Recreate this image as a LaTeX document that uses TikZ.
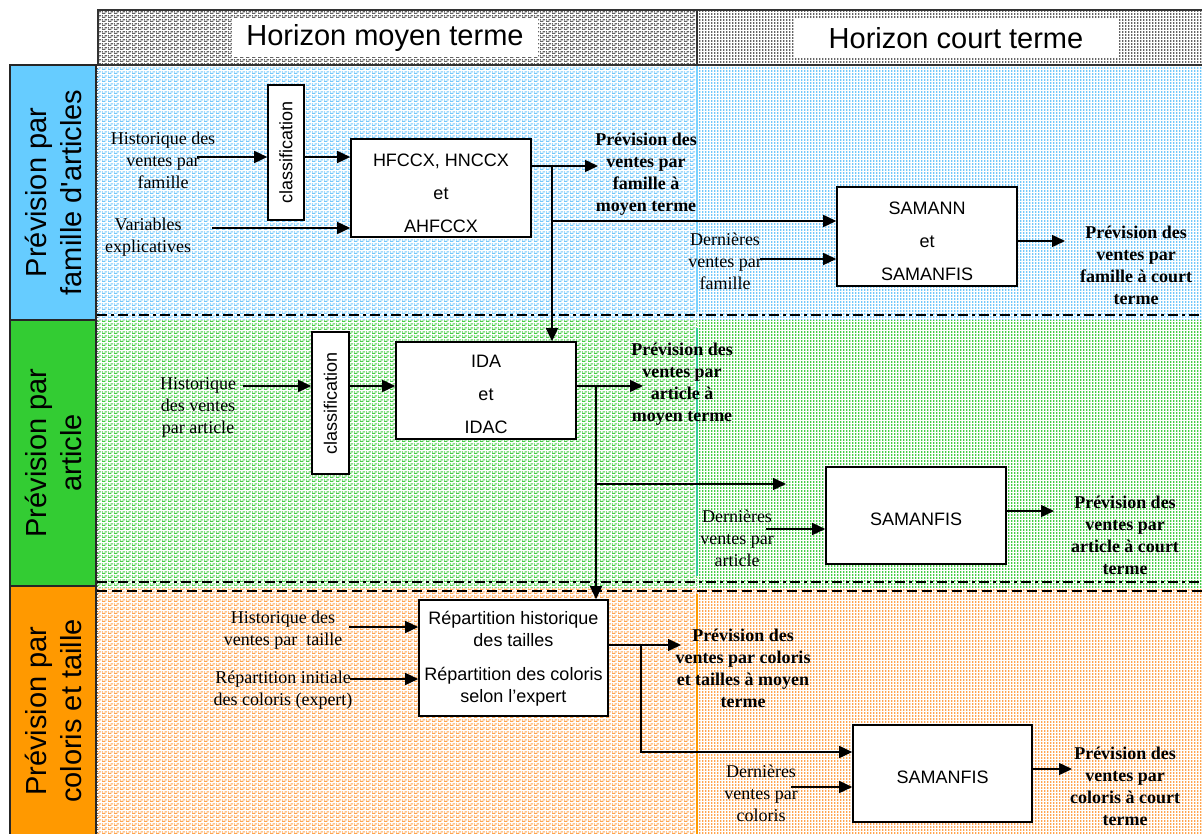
\documentclass[tikz,border=0pt]{standalone}
\usepackage{fontspec}
\setmainfont{Liberation Serif}
\newfontfamily\sansfam{Liberation Sans}
\usetikzlibrary{arrows.meta,patterns}

% staggered horizontal dashes (medium-term side)
\pgfdeclarepatternformonly{hdash}{\pgfpointorigin}{\pgfqpoint{6pt}{4pt}}{\pgfqpoint{6pt}{4pt}}{%
  \pgfsetlinewidth{1.4pt}%
  \pgfpathmoveto{\pgfqpoint{0pt}{0.7pt}}\pgfpathlineto{\pgfqpoint{4pt}{0.7pt}}%
  \pgfpathmoveto{\pgfqpoint{3pt}{2.7pt}}\pgfpathlineto{\pgfqpoint{6pt}{2.7pt}}%
  \pgfpathmoveto{\pgfqpoint{0pt}{2.7pt}}\pgfpathlineto{\pgfqpoint{1pt}{2.7pt}}%
  \pgfusepath{stroke}}
% fine dots (short-term side)
\pgfdeclarepatternformonly{fdots}{\pgfpointorigin}{\pgfqpoint{3pt}{3pt}}{\pgfqpoint{3pt}{3pt}}{%
  \pgfpathrectangle{\pgfpointorigin}{\pgfqpoint{1.8pt}{2.4pt}}%
  \pgfusepath{fill}}

\definecolor{bluelab}{RGB}{102,204,255}
\definecolor{greenlab}{RGB}{51,204,51}
\definecolor{orangelab}{RGB}{255,153,0}
\definecolor{bluepat}{RGB}{115,200,250}
\definecolor{greenpat}{RGB}{70,205,70}
\definecolor{orangepat}{RGB}{255,165,80}
\definecolor{greypat}{RGB}{100,100,100}
\definecolor{bluesep}{RGB}{120,210,255}
\definecolor{greensep}{RGB}{51,204,153}

\tikzset{
  title/.style={fill=white, inner sep=0pt, font=\sansfam\fontsize{29}{35}\selectfont},
  bandlabel/.style={draw=black!85, line width=1.2pt, inner sep=0pt, rotate=90, align=center,
    font=\sansfam\fontsize{29}{35}\selectfont},
  box/.style={draw, line width=1.6pt, fill=white, inner sep=0pt},
  boxtext/.style={inner sep=0pt, align=center, font=\sansfam\fontsize{18}{33}\selectfont},
  clsbox/.style={draw, line width=1.6pt, fill=white, inner sep=0pt,
    font=\sansfam\fontsize{18}{22}\selectfont},
  intext/.style={inner sep=0pt, align=center, font=\fontsize{18}{22}\selectfont},
  outtext/.style={inner sep=0pt, align=center, font=\fontsize{18}{22}\selectfont\bfseries},
  arr/.style={line width=1.5pt, -{Triangle[length=13pt,width=12pt]}},
  dashdot/.style={line width=2pt, dash pattern=on 10pt off 4pt on 3pt off 4pt},
  dashline/.style={line width=2pt, dash pattern=on 10pt off 5pt},
}

\begin{document}
\begin{tikzpicture}[x=1pt,y=-1pt]
\useasboundingbox (0,0) rectangle (1202,834);

% ---------- band backgrounds ----------
\fill[pattern=hdash, pattern color=bluepat]   (97,65)  rectangle (697,320);
\fill[pattern=fdots, pattern color=bluepat]   (697,65) rectangle (1202,320);
\fill[pattern=hdash, pattern color=greenpat]  (97,321) rectangle (697,587);
\fill[pattern=fdots, pattern color=greenpat]  (697,321) rectangle (1202,587);
\fill[pattern=hdash, pattern color=orangepat] (97,588) rectangle (697,834);
\fill[pattern=fdots, pattern color=orangepat] (697,588) rectangle (1202,834);

% horizon separators
\draw[bluesep, line width=1.5pt]   (697,65)  -- (697,312);
\draw[greensep, line width=1.5pt]  (697,328) -- (697,576);
\draw[orangelab, line width=1.5pt] (697,594) -- (697,834);
\draw[black!60, line width=0.8pt, dotted] (97,65) -- (97,834);

% band separators
\draw[dashdot]  (97,315) -- (1202,315);
\draw[dashdot]  (97,582) -- (1202,582);
\draw[dashline] (97,591) -- (1202,591);

% ---------- header ----------
\fill[pattern=hdash, pattern color=greypat] (98,10) rectangle (697,65);
\fill[pattern=fdots, pattern color=greypat] (697,10) rectangle (1202,65);
\draw[line width=1.2pt, black!80] (1202,10) -- (98,10) -- (98,65) -- (1202,65);
\draw[line width=1.2pt, black!80] (697,10) -- (697,65);
\node[title, minimum width=306pt, minimum height=39pt] (hmoyen) at (385,38) {Horizon moyen terme};
\node[title, minimum width=325pt, minimum height=39pt] (hcourt) at (956,38) {Horizon court terme};

% ---------- row labels ----------
\node[bandlabel, fill=bluelab, minimum width=255pt, minimum height=86pt] (lfam) at (53,192.5)
  {Prévision par\\famille d'articles};
\node[bandlabel, fill=greenlab, minimum width=266pt, minimum height=86pt] (lart) at (53,453)
  {Prévision par\\article};
\node[bandlabel, fill=orangelab, minimum width=250pt, minimum height=86pt] (lcol) at (53,711)
  {Prévision par\\coloris et taille};

% ---------- family row ----------
\node[clsbox, minimum width=135pt, minimum height=36pt, rotate=90] (cls1) at (286,152.5) {classification};
\node[intext] (hist1) at (163,160) {Historique des\\ventes par\\famille};
\node[intext] (var1) at (148,237) {Variables\\explicatives};
\node[box, minimum width=180pt, minimum height=98pt] (hf) at (441,188) {};
\node[boxtext] (hft) at (441,193) {HFCCX, HNCCX\\et\\AHFCCX};
\node[outtext] (pm1) at (646,174) {Prévision des\\ventes par\\famille à\\moyen terme};
\node[box, minimum width=180pt, minimum height=99pt] (sam1) at (927,236.5) {};
\node[boxtext] (sam1t) at (927,241) {SAMANN\\et\\SAMANFIS};
\node[intext] (der1) at (725,261) {Dernières\\ventes par\\famille};
\node[outtext] (pc1) at (1136,265) {Prévision des\\ventes par\\famille à court\\terme};

\coordinate (h1s) at (197,157);
\coordinate (v1s) at (212,228);
\coordinate (hfo) at (531,166);
\coordinate (pm1t) at (598,166);
\coordinate (j1) at (552,166);
\coordinate (j1b) at (552,221);
\coordinate (d1s) at (760,259);
\coordinate (s1o) at (1017,241);
\coordinate (pc1t) at (1065,241);

\draw[arr] (h1s) -- (h1s -| cls1.north);
\draw[arr] (h1s -| cls1.south) -- (h1s -| hf.west);
\draw[arr] (v1s) -- (v1s -| hf.west);
\draw[arr] (hfo) -- (pm1t);

% ---------- article row ----------
\node[clsbox, minimum width=142pt, minimum height=37pt, rotate=90] (cls2) at (330.5,403) {classification};
\node[intext] (hist2) at (198,407) {Historique\\des ventes\\par article};
\node[box, minimum width=180pt, minimum height=97pt] (ida) at (486,390.5) {};
\node[boxtext] (idat) at (486,394) {IDA\\et\\IDAC};
\node[outtext] (pm2) at (682,384) {Prévision des\\ventes par\\article à\\moyen terme};
\node[box, minimum width=180pt, minimum height=97pt] (sf2) at (916,515.5) {};
\node[boxtext] (sf2t) at (916,519) {SAMANFIS};
\node[intext] (der2) at (737,538) {Dernières\\ventes par\\article};
\node[outtext] (pc2) at (1125,535) {Prévision des\\ventes par\\article à court\\terme};

\draw[arr] (j1) -- (j1 |- ida.north);
\draw[arr] (j1b) -- (j1b -| sam1.west);
\draw[arr] (d1s) -- (d1s -| sam1.west);
\draw[arr] (s1o) -- (pc1t);

\coordinate (h2s) at (243,386);
\coordinate (idao) at (576,386);
\coordinate (pm2t) at (643,386);
\coordinate (j2) at (596,386);
\coordinate (j2b) at (596,484);
\coordinate (j2e) at (786,484);
\coordinate (d2s) at (766,529);
\coordinate (s2o) at (1006,511);
\coordinate (pc2t) at (1054,511);

\draw[arr] (h2s) -- (h2s -| cls2.north);
\draw[arr] (h2s -| cls2.south) -- (h2s -| ida.west);
\draw[arr] (idao) -- (pm2t);
\draw[arr] (j2b) -- (j2e);
\draw[arr] (d2s) -- (d2s -| sf2.west);
\draw[arr] (s2o) -- (pc2t);

% ---------- colour / size row ----------
\node[box, minimum width=189pt, minimum height=116pt] (rep) at (513.5,658) {};
\node[boxtext, font=\sansfam\fontsize{18}{22}\selectfont] (rept) at (513.5,659)
  {Répartition historique\\des tailles\\[12pt]Répartition des coloris\\selon l’expert};
\node[intext] (histT) at (283,630) {Historique des\\ventes par\ \ taille};
\node[intext] (repI) at (283,690) {Répartition initiale\\des coloris (expert)};
\node[outtext] (pm3) at (743,668) {Prévision des\\ventes par coloris\\et tailles à moyen\\terme};
\node[box, minimum width=179pt, minimum height=97pt] (sf3) at (942.5,773.5) {};
\node[boxtext] (sf3t) at (942.5,777) {SAMANFIS};
\node[intext] (der3) at (761,793) {Dernières\\ventes par\\coloris};
\node[outtext] (pc3) at (1125,786) {Prévision des\\ventes par\\coloris à court\\terme};

\draw[arr] (j2) -- (j2 |- rep.north);

\coordinate (t3s) at (349,627);
\coordinate (r3s) at (350,679);
\coordinate (repo) at (608,645);
\coordinate (pm3t) at (681,645);
\coordinate (j3) at (641,645);
\coordinate (j3b) at (641,752);
\coordinate (d3s) at (791,787);
\coordinate (s3o) at (1032,769);
\coordinate (pc3t) at (1072,769);

\draw[arr] (t3s) -- (t3s -| rep.west);
\draw[arr] (r3s) -- (r3s -| rep.west);
\draw[arr] (repo) -- (pm3t);
\draw[arr] (j3) -- (j3b) -- (j3b -| sf3.west);
\draw[arr] (d3s) -- (d3s -| sf3.west);
\draw[arr] (s3o) -- (pc3t);
\end{tikzpicture}
\end{document}
